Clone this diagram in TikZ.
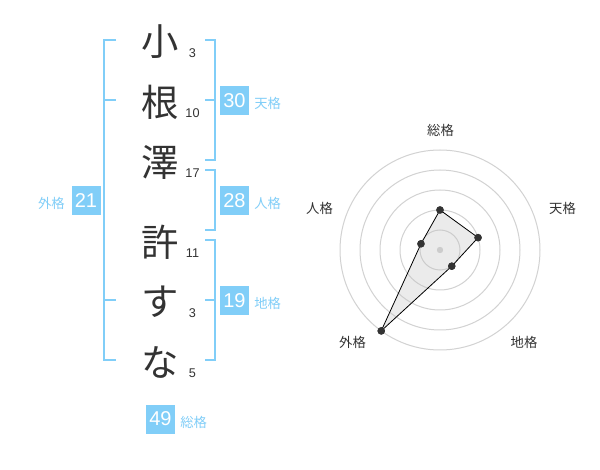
\documentclass[tikz,border=0pt]{standalone}
\usepackage{fontspec}
\setmainfont{Noto Sans CJK JP}
\newfontfamily\numfont{Liberation Sans}
\definecolor{sky}{RGB}{129,206,248}
\definecolor{ink}{RGB}{51,51,51}
\definecolor{ringgray}{RGB}{210,210,210}
\begin{document}
\begin{tikzpicture}[x=0.75pt,y=-0.75pt,
  kanji/.style={font=\fontsize{28}{28}\selectfont, text=ink, inner sep=0pt},
  strokes/.style={font=\numfont\fontsize{9.5}{10}\selectfont, text=ink, inner sep=0pt},
  bracket/.style={draw=sky, line width=1.5pt},
  scorebox/.style={fill=sky, text=white, minimum width=21.75pt, minimum height=21.75pt, inner sep=0pt, font=\numfont\fontsize{15}{15}\selectfont},
  scorelabel/.style={text=sky, font=\fontsize{10}{10}\selectfont, inner sep=0pt},
  ring/.style={draw=ringgray, line width=0.75pt},
  axislabel/.style={text=ink, font=\fontsize{10}{10}\selectfont, inner sep=0pt},
  dot/.style={circle, fill=ink, minimum size=5.6pt, inner sep=0pt},
]
\useasboundingbox (0,0) rectangle (600,470);
\fill[white] (0,0) rectangle (600,470);

% characters
\node[kanji] (c1) at (160,42) {小};
\node[kanji] (c2) at (160,102) {根};
\node[kanji] (c3) at (160,162) {澤};
\node[kanji] (c4) at (160,242) {許};
\node[kanji] (c5) at (160,302) {す};
\node[kanji] (c6) at (160,362) {な};

\node[strokes] (s1) at (192.5,53.5) {3};
\node[strokes] (s2) at (192.5,113.5) {10};
\node[strokes] (s3) at (192.5,173.5) {17};
\node[strokes] (s4) at (192.5,253.5) {11};
\node[strokes] (s5) at (192.5,313.5) {3};
\node[strokes] (s6) at (192.5,373.5) {5};

% brackets
\draw[bracket] (116,40) -- (104,40) -- (104,360) -- (116,360);
\draw[bracket] (104,100) -- (116,100);
\draw[bracket] (104,300) -- (116,300);
\draw[bracket] (205,40) -- (215,40) -- (215,160) -- (205,160);
\draw[bracket] (205,100) -- (215,100);
\draw[bracket] (205,170) -- (215,170) -- (215,230) -- (205,230);
\draw[bracket] (205,240) -- (215,240) -- (215,360) -- (205,360);
\draw[bracket] (205,300) -- (215,300);

% scores
\node[scorebox] (ten) at (234.5,101) {30};
\node[scorelabel, anchor=west] (tenl) at (254,103.5) {天格};
\node[scorebox] (jin) at (234.5,200.5) {28};
\node[scorelabel, anchor=west] (jinl) at (254,203.5) {人格};
\node[scorebox] (chi) at (234.5,300.5) {19};
\node[scorelabel, anchor=west] (chil) at (254,303.5) {地格};
\node[scorebox] (gai) at (86,200.5) {21};
\node[scorelabel, anchor=east] (gail) at (65,203.5) {外格};
\node[scorebox] (sou) at (160.5,419) {49};
\node[scorelabel, anchor=west] (soul) at (180,422.5) {総格};

% radar
\coordinate (c) at (440,250);
\foreach \r in {15,30,45,60,75} \draw[ring] (c) circle[radius=\r pt];
\fill[ringgray] (c) circle[radius=2.4pt];

\node[dot] (p1) at (440,210) {};
\node[dot] (p2) at (478.04,237.64) {};
\node[dot] (p3) at (451.76,266.18) {};
\node[dot] (p4) at (381.22,330.9) {};
\node[dot] (p5) at (420.98,243.82) {};
\fill[black!25, fill opacity=0.3] (p1.center) -- (p2.center) -- (p3.center) -- (p4.center) -- (p5.center) -- cycle;
\draw[black, line width=0.6pt] (p1.center) -- (p2.center) -- (p3.center) -- (p4.center) -- (p5.center) -- cycle;
\node[dot] at (p1) {};
\node[dot] at (p2) {};
\node[dot] at (p3) {};
\node[dot] at (p4) {};
\node[dot] at (p5) {};

\node[axislabel] (a1) at (440.5,130.5) {総格};
\node[axislabel] (a2) at (562.5,208.5) {天格};
\node[axislabel] (a3) at (524,342.5) {地格};
\node[axislabel] (a4) at (352.5,342.5) {外格};
\node[axislabel] (a5) at (319.5,208.5) {人格};
\end{tikzpicture}
\end{document}
